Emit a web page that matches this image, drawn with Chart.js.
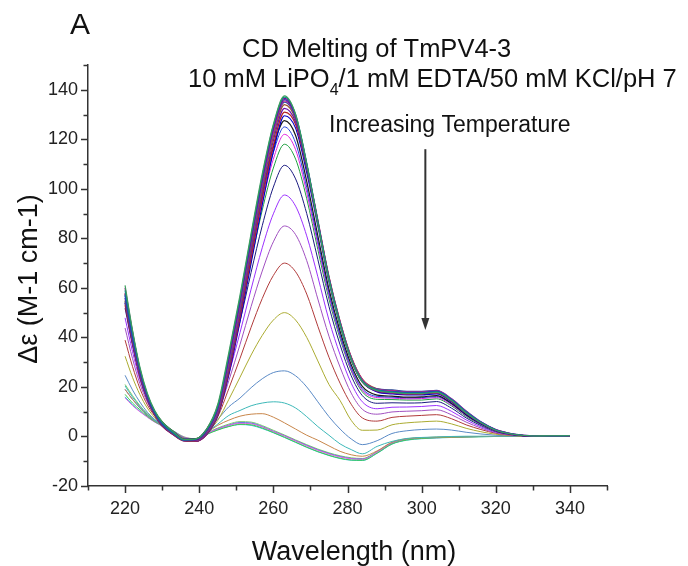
<!DOCTYPE html>
<html>
<head>
<meta charset="utf-8">
<script src="https://cdn.jsdelivr.net/npm/chart.js@4.4.1/dist/chart.umd.min.js"></script>
<style>
  html, body { margin: 0; padding: 0; background: #fff; }
  #wrap { width: 688px; height: 566px; position: relative; }
</style>
</head>
<body>
<div id="wrap"><canvas id="cdChart"></canvas></div>
<script>
// CD melting spectra of TmPV4-3, one curve per temperature (low -> high)
const WAVELENGTH = [220, 222, 224, 226, 228, 230, 233, 236, 239, 242, 245, 248, 251, 254, 257, 260, 263, 266,
  269, 272, 275, 278, 281, 284, 288, 292, 296, 300, 304, 308, 312, 316, 320, 325, 330, 335, 340];

// folded bundle
const CD_137_5 = [61, 43, 28, 17.5, 10.5, 6, 2, -1.2, -1.0, 3, 13, 34, 57, 82, 106, 126, 137.5, 130, 110, 86, 63, 45, 31, 22, 18.5, 17.8, 17.3, 17.3, 17.8, 14.5, 9.5, 5.5, 2.5, 0.8, 0.2, 0.3, 0.3];
const CD_137 = [59, 42, 27.5, 17, 10, 5.5, 1.5, -1.4, -1.2, 2.5, 12, 33, 56, 81, 105, 125.5, 137, 130, 110.5, 87, 64, 46, 31.5, 22.5, 18.8, 18, 17.5, 17.5, 18, 14.8, 9.8, 5.6, 2.6, 0.8, 0.2, 0.2, 0.3];
const CD_136_5 = [60, 42.5, 27, 16.5, 10, 5.5, 1.8, -1.3, -1.4, 2.2, 11.5, 32, 55, 80, 104, 124.5, 136.5, 129.5, 110, 86.5, 63.5, 45.5, 31, 22, 18.2, 17.5, 17, 17.2, 17.6, 14.2, 9.4, 5.4, 2.4, 0.7, 0.1, 0.2, 0.2];
const CD_136 = [57, 40, 26, 16, 9.5, 5, 1.5, -1.5, -1.5, 2, 11, 31, 54, 79, 103, 124, 136, 129, 109, 86, 63, 45, 31, 22.3, 18.6, 18.2, 17.8, 17.8, 18.3, 15, 10, 5.8, 2.7, 0.9, 0.2, 0.3, 0.3];
const CD_135_5 = [58, 41, 26.5, 16.5, 10, 5.2, 1.6, -1.4, -1.6, 1.8, 10.5, 30, 53, 78, 102, 123, 135.5, 129, 110, 87.5, 64.5, 46.5, 32, 23, 19, 18.5, 18, 18, 18.5, 15.2, 10.2, 5.8, 2.8, 0.9, 0.3, 0.3, 0.3];
const CD_135 = [56, 39.5, 25.5, 15.5, 9.3, 4.8, 1.2, -1.6, -1.6, 1.5, 10, 29, 52, 77, 101, 122.5, 135, 128.5, 109.5, 87, 64, 46, 31.8, 22.8, 19.2, 18.8, 18.2, 18.2, 18.6, 15.3, 10.3, 5.9, 2.8, 1, 0.3, 0.2, 0.3];
const CD_134 = [55, 39, 25, 15.5, 9, 4.6, 1, -1.7, -1.8, 1.3, 9.5, 28, 51, 75.5, 99.5, 121, 134, 128, 109, 87, 64.5, 46.5, 32.2, 23.2, 19.3, 18.6, 18, 18, 18.4, 15, 10, 5.7, 2.7, 0.9, 0.2, 0.2, 0.2];
const CD_132_5 = [54, 38, 24.5, 15, 8.8, 4.4, 0.8, -1.8, -1.9, 1, 9, 27, 49.5, 74, 98, 119.5, 132.5, 127, 108.5, 86.5, 64, 46.2, 32, 23, 19, 18.3, 17.7, 17.8, 18.2, 14.8, 9.8, 5.6, 2.6, 0.8, 0.2, 0.2, 0.2];
const CD_131 = [53, 37.5, 24, 14.8, 8.6, 4.2, 0.7, -1.8, -2, 0.8, 8.5, 26, 48, 72, 96, 117.5, 131, 126, 108, 86, 63.5, 45.5, 31.5, 22.5, 18.5, 17.8, 17.2, 17.2, 17.6, 14.3, 9.5, 5.4, 2.5, 0.8, 0.2, 0.2, 0.2];
const CD_129_5 = [54, 38, 24.5, 15, 8.7, 4.3, 0.8, -1.7, -1.9, 0.8, 8.3, 25, 46.5, 70, 93.5, 115, 129.5, 124.5, 106.5, 85, 62.5, 45, 31, 22, 18, 17.2, 16.8, 16.8, 17.2, 14, 9.2, 5.2, 2.4, 0.7, 0.1, 0.2, 0.2];

// melting transition
const CD_127_5 = [57.7, 40.8, 26.7, 16.8, 10.2, 5.9, 2, -1.2, -1.0, 2.9, 12.3, 31.8, 53.2, 76.4, 98.5, 116.9, 127.5, 121.5, 103, 81, 59.5, 42.5, 29, 20.2, 16.7, 16.3, 15.9, 16, 16.5, 13.4, 8.8, 5.1, 2.3, 0.7, 0.2, 0.3, 0.3];
const CD_125 = [56.9, 40.3, 26.4, 16.6, 10.1, 5.9, 2, -1.1, -1.0, 2.8, 12.1, 31.3, 52.3, 75, 96.7, 114.7, 125, 118.5, 100.6, 79, 58, 41, 27.8, 19.3, 16.2, 15.9, 15.6, 15.7, 16.1, 13.2, 8.6, 5, 2.3, 0.7, 0.2, 0.3, 0.3];
const CD_122 = [55.9, 39.6, 26, 16.4, 10, 5.8, 2, -1.1, -1.0, 2.8, 11.8, 30.6, 51.1, 73.3, 94.4, 112, 122, 115.8, 98.5, 77.5, 57, 40.5, 27, 18.7, 15.7, 15.5, 15.2, 15.3, 15.7, 12.8, 8.4, 4.9, 2.2, 0.7, 0.2, 0.3, 0.3];
const CD_118 = [54.6, 38.7, 25.5, 16.2, 9.9, 5.8, 2, -1.1, -1.0, 2.7, 11.6, 29.8, 49.6, 71, 91.4, 108.4, 118, 112, 96, 75.5, 55.5, 39.5, 26.5, 18, 15, 14.9, 14.7, 14.7, 15.2, 12.4, 8.1, 4.7, 2.1, 0.7, 0.2, 0.3, 0.3];
const CD_109_5 = [51.8, 36.9, 24.4, 15.6, 9.6, 5.7, 2, -1.1, -1.0, 2.6, 10.9, 27.9, 46.4, 66.3, 85.1, 100.7, 109.5, 104, 90, 71.5, 52.5, 37, 24.5, 16.5, 13.4, 13.6, 13.5, 13.6, 14.1, 11.5, 7.5, 4.4, 2, 0.6, 0.2, 0.3, 0.3];
const CD_97_5 = [47.9, 34.3, 22.9, 14.7, 9.2, 5.6, 2, -1.0, -1.1, 2.4, 10, 25.3, 41.9, 59.5, 76.2, 89.9, 97.5, 93, 81, 64.5, 47, 33, 21.5, 14, 11.2, 11.8, 11.9, 12.1, 12.5, 10.2, 6.7, 3.9, 1.8, 0.6, 0.2, 0.2, 0.3];
const CD_85 = [43.8, 31.5, 21.3, 13.9, 8.8, 5.4, 2, -0.9, -1.1, 2.2, 9.1, 22.6, 37.1, 52.5, 66.8, 78.6, 85, 81.5, 71, 55.5, 40.5, 28, 17.5, 11, 9, 9.9, 10.2, 10.4, 10.8, 8.8, 5.8, 3.4, 1.5, 0.5, 0.2, 0.2, 0.2];
const CD_70 = [38.9, 28.3, 19.4, 12.8, 8.3, 5.3, 2, -0.9, -1.1, 2, 8, 19.4, 31.5, 44.1, 55.7, 65, 70, 66.5, 57.5, 44.5, 32, 21.5, 13, 7.5, 6.2, 7.7, 8.2, 8.5, 8.8, 7.2, 4.7, 2.8, 1.3, 0.4, 0.1, 0.2, 0.2];
const CD_50 = [32.4, 23.9, 16.9, 11.5, 7.6, 5, 2, -0.8, -1.1, 1.7, 6.5, 15, 23.9, 32.9, 40.8, 47, 50, 47, 40, 30.5, 21, 14.5, 6.5, 2.5, 2.6, 4.7, 5.5, 5.9, 6.2, 5.1, 3.3, 1.9, 0.9, 0.3, 0.1, 0.2, 0.2];
const CD_26_5 = [24.7, 18.8, 13.9, 9.8, 6.9, 4.8, 2, -0.6, -1.2, 3, 7, 12, 15.5, 19.7, 23.3, 25.8, 26.5, 24.5, 20, 14, 8, 3, -1, -3.3, -1.7, 1.2, 2.3, 2.8, 3, 2.6, 1.7, 1, 0.5, 0.2, 0.1, 0.1, 0.1];
const CD_13_5 = [20.4, 15.9, 12.2, 8.9, 6.4, 4.6, 2, -0.6, -1.2, 1.6, 5, 8.5, 10.5, 12.4, 13.5, 14, 13.5, 11.5, 8, 4, 0.5, -3, -5.3, -7, -4, -2, -0.8, -0.4, -0.2, 0, 0.1, 0.1, 0.1, 0.1, 0, 0.1, 0.1];
const CD_9 = [19, 15, 11.8, 8.7, 6.3, 4.6, 2, -0.5, -1.2, 1.5, 4.5, 6.6, 8.2, 9, 9.2, 7.8, 5.5, 3, 0.5, -1.5, -3.8, -6, -7.4, -8, -5.8, -2.3, -0.9, -0.5, -0.3, -0.2, -0.1, 0, 0, 0.1, 0.1, 0.1, 0.1];

// unfolded
const CD_LOW_A = [17, 13.5, 10.8, 8.2, 6, 4.4, 1.8, -0.8, -1.5, 0.8, 2.6, 4, 4.9, 4.7, 3.4, 1.6, -0.3, -2.3, -4.3, -6.1, -7.6, -8.8, -9.5, -9.6, -6.7, -3, -1.4, -0.8, -0.5, -0.3, -0.2, -0.1, 0, 0, 0.1, 0.1, 0.1];
const CD_LOW_B = [15.6, 12.5, 10, 7.8, 5.8, 4.2, 2, -0.3, -1, 1.2, 3, 4.5, 5.3, 5.1, 3.8, 2, 0.2, -1.8, -3.8, -5.6, -7.1, -8.3, -9, -9.2, -6.3, -2.7, -1.2, -0.6, -0.5, -0.3, -0.1, 0, 0, 0, 0.1, 0.1, 0.1];
const CD_LOW_C = [19, 15, 11.5, 8.6, 6.3, 4.6, 2.2, -0.4, -1.1, 1.1, 3.1, 4.6, 5.6, 5.4, 4, 2.1, 0.3, -1.7, -3.6, -5.4, -6.9, -8.1, -8.9, -9.1, -6.2, -2.6, -1.1, -0.6, -0.4, -0.2, -0.1, 0, 0, 0.1, 0.1, 0.1, 0.1];
const CD_LOW_D = [16, 12.8, 10.2, 7.9, 5.9, 4.3, 1.9, -0.6, -1.3, 0.9, 2.7, 4.1, 4.8, 4.5, 3.2, 1.5, -0.4, -2.4, -4.4, -6.2, -7.7, -8.9, -9.6, -9.7, -6.8, -3.1, -1.5, -0.9, -0.6, -0.4, -0.2, -0.1, 0, 0, 0, 0.1, 0.1];
const CD_LOW_E = [21, 16.5, 12.5, 9.2, 6.7, 4.8, 2.3, -0.2, -0.9, 1.4, 3.4, 5, 6, 5.8, 4.4, 2.5, 0.6, -1.4, -3.3, -5.1, -6.6, -7.8, -8.6, -8.9, -6, -2.5, -1, -0.5, -0.3, -0.2, -0.1, 0, 0, 0.1, 0.1, 0.1, 0.1];

const SPECTRA = [CD_137_5, CD_137, CD_136_5, CD_136, CD_135_5, CD_135, CD_134, CD_132_5, CD_131, CD_129_5,
  CD_127_5, CD_125, CD_122, CD_118, CD_109_5, CD_97_5, CD_85, CD_70, CD_50, CD_26_5, CD_13_5, CD_9,
  CD_LOW_A, CD_LOW_B, CD_LOW_C, CD_LOW_D, CD_LOW_E];

const COLORS = ['#3c9d5d', '#008b8b', '#8b008b', '#1f3fbf', '#d02090', '#2f4f9f', '#a0522d', '#6a0dad', '#b22222', '#0000cd',
  '#1a1a1a', '#2040e0', '#e020e0', '#20a040', '#1a1a80', '#9b30ff', '#a050c0', '#b03a3a', '#abab30', '#5a8ac6', '#3db8b8', '#c8864a',
  '#40c850', '#e060e0', '#4a6ce0', '#30c0d8', '#7bc86a'];

const FONT = '"Liberation Sans", Arial, sans-serif';
const INK = '#111';
const AXIS = '#333';

const decor = {
  id: 'decor',
  afterDraw(chart) {
    const { ctx, chartArea: area } = chart;
    const xs = chart.scales.x, ys = chart.scales.y;
    ctx.save();

    // outward ticks, longer at labelled values
    ctx.strokeStyle = AXIS;
    ctx.lineWidth = 1.5;
    ctx.beginPath();
    xs.ticks.forEach(t => {
      const px = Math.round(xs.getPixelForValue(t.value)) + 0.5;
      const len = t.value % 20 === 0 ? 7 : 4.5;
      ctx.moveTo(px, area.bottom);
      ctx.lineTo(px, area.bottom + len);
    });
    ys.ticks.forEach(t => {
      const py = Math.round(ys.getPixelForValue(t.value)) + 0.5;
      const len = t.value % 20 === 0 ? 7 : 4.5;
      ctx.moveTo(area.left, py);
      ctx.lineTo(area.left - len, py);
    });
    ctx.stroke();

    ctx.fillStyle = INK;
    ctx.textBaseline = 'alphabetic';
    ctx.textAlign = 'left';

    ctx.font = '30px ' + FONT;
    ctx.fillText('A', 70, 34);

    ctx.font = '25.5px ' + FONT;
    ctx.fillText('CD Melting of TmPV4-3', 242, 57);

    let x = 188;
    const base = 87;
    ctx.fillText('10 mM LiPO', x, base);
    x += ctx.measureText('10 mM LiPO').width;
    ctx.font = '16px ' + FONT;
    ctx.fillText('4', x, base + 8);
    x += ctx.measureText('4').width;
    ctx.font = '25.5px ' + FONT;
    ctx.fillText('/1 mM EDTA/50 mM KCl/pH 7', x, base);

    ctx.font = '23px ' + FONT;
    ctx.fillText('Increasing Temperature', 329, 132);

    // arrow
    const ax = xs.getPixelForValue(301);
    const y0 = ys.getPixelForValue(116);
    const y1 = ys.getPixelForValue(43);
    ctx.strokeStyle = AXIS;
    ctx.lineWidth = 2;
    ctx.beginPath();
    ctx.moveTo(ax, y0);
    ctx.lineTo(ax, y1 - 10);
    ctx.stroke();
    ctx.fillStyle = AXIS;
    ctx.beginPath();
    ctx.moveTo(ax - 4, y1 - 12);
    ctx.lineTo(ax + 4, y1 - 12);
    ctx.lineTo(ax, y1);
    ctx.closePath();
    ctx.fill();

    // axis titles
    ctx.fillStyle = INK;
    ctx.font = '27px ' + FONT;
    ctx.textAlign = 'center';
    ctx.fillText('Wavelength (nm)', 354, 560);

    ctx.translate(30, 279);
    ctx.rotate(-Math.PI / 2);
    ctx.textBaseline = 'middle';
    ctx.fillText('\u0394\u03b5 (M-1 cm-1)', 0, 0);
    ctx.restore();
  }
};

const tickLabel = v => (v % 20 === 0 ? String(v) : '');

new Chart(document.getElementById('cdChart').getContext('2d'), {
  type: 'line',
  data: {
    datasets: SPECTRA.map((vals, i) => ({
      data: WAVELENGTH.map((w, j) => ({ x: w, y: vals[j] })),
      borderColor: COLORS[i],
      borderWidth: i < 11 ? 1.2 : 1,
      pointRadius: 0,
      fill: false,
      cubicInterpolationMode: 'monotone'
    }))
  },
  options: {
    responsive: true,
    maintainAspectRatio: false,
    animation: false,
    devicePixelRatio: 1,
    layout: { padding: { top: 65, right: 81, left: 0, bottom: 0 } },
    plugins: { legend: { display: false }, tooltip: { enabled: false } },
    scales: {
      x: {
        type: 'linear',
        min: 210,
        max: 350,
        grid: { display: false, drawTicks: false },
        border: { display: true, color: AXIS, width: 1.5 },
        ticks: { stepSize: 10, autoSkip: false, maxRotation: 0, padding: 12, color: '#222', font: { family: FONT, size: 18 }, callback: tickLabel },
        afterFit: s => { s.height = 80; }
      },
      y: {
        min: -20,
        max: 150,
        grid: { display: false, drawTicks: false },
        border: { display: true, color: AXIS, width: 1.5 },
        ticks: { stepSize: 10, autoSkip: false, padding: 10, color: '#222', font: { family: FONT, size: 18 }, callback: tickLabel },
        afterFit: s => { s.width = 88; }
      }
    }
  },
  plugins: [decor]
});
</script>
</body>
</html>
